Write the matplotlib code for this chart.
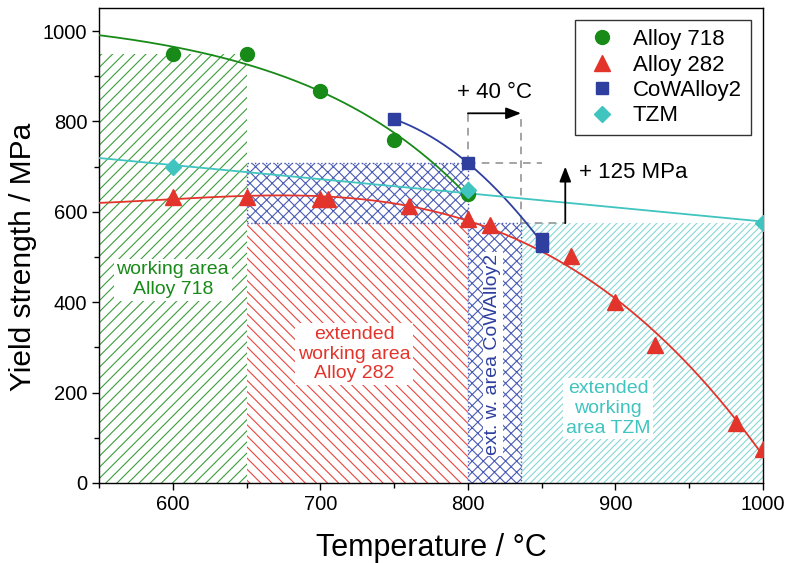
import numpy as np
import matplotlib
matplotlib.use("Agg")
import matplotlib.pyplot as plt
from matplotlib.patches import Rectangle

plt.rcParams['font.family'] = ['Liberation Sans', 'DejaVu Sans']
plt.rcParams['hatch.linewidth'] = 0.8

# Measured yield strength (MPa) versus temperature (°C)
t_718 = [600, 650, 700, 750, 800]
ys_718 = [950, 950, 868, 760, 640]

t_282 = [600, 650, 700, 705, 760, 800, 815, 870, 900, 927, 982, 1000]
ys_282 = [633, 633, 628, 628, 612, 584, 570, 503, 400, 306, 132, 75]

t_cow = [750, 800, 850, 850]
ys_cow = [805, 708, 540, 525]

t_tzm = [600, 800, 1000]
ys_tzm = [700, 648, 575]

# Working-area limits (temperature range, strength range)
area_718 = (550, 650, 0, 950)
area_282 = (650, 800, 0, 575)
area_cow_upper = (650, 800, 575, 708)
area_cow_lower = (800, 836, 0, 575)
area_tzm = (836, 1000, 0, 575)

c_green = '#188a18'
c_red = '#e3342b'
c_blue = '#2f3f9f'
c_cyan = '#3fc4c0'

fig = plt.figure(figsize=(7.88, 5.63), dpi=100)
ax = fig.add_axes([0.1256, 0.1421, 0.8427, 0.8437])
ax.set_xlim(550, 1000)
ax.set_ylim(0, 1051)


def area(lims, color, hatch, **kw):
    x0, x1, y0, y1 = lims
    r = Rectangle((x0, y0), x1 - x0, y1 - y0, facecolor='none',
                  edgecolor=color, hatch=hatch, zorder=1, **kw)
    ax.add_patch(r)
    return r


area(area_718, '#3c9c3c', '///', linewidth=0)
area(area_282, '#e8463e', '\\\\\\', linewidth=0)
area(area_tzm, '#86d8d5', '/////', linewidth=0)
area(area_cow_upper, '#4a5bb5', 'xxx', linewidth=1.0, linestyle=':')
area(area_cow_lower, '#4a5bb5', 'xxx', linewidth=1.0, linestyle=':')


# Fitted trend curves
def fit_poly(t, y, deg, t0, t1):
    p = np.polyfit(t, y, deg)
    tt = np.linspace(t0, t1, 300)
    return tt, np.polyval(p, tt)


def fit_exp(t, y, t0, t1):
    # y = a - b * exp(k * (T - 800)), k chosen by least squares scan
    t = np.asarray(t, float)
    y = np.asarray(y, float)
    best = None
    for k in np.linspace(0.002, 0.08, 800):
        X = np.column_stack([np.ones_like(t), -np.exp(k * (t - 800))])
        coef, *_ = np.linalg.lstsq(X, y, rcond=None)
        r = np.sum((X @ coef - y) ** 2)
        if best is None or r < best[0]:
            best = (r, k, coef)
    _, k, (a, b) = best
    tt = np.linspace(t0, t1, 300)
    return tt, a - b * np.exp(k * (tt - 800))


curves = [
    (fit_exp(t_718, ys_718, 550, 800), c_green),
    (fit_poly(t_282, ys_282, 3, 550, 1000), c_red),
    (fit_poly(t_cow, ys_cow, 2, 750, 850), c_blue),
    (fit_poly(t_tzm, ys_tzm, 1, 550, 1000), c_cyan),
]
for (tt, yy), col in curves:
    ax.plot(tt, yy, color=col, lw=1.3, zorder=3)

ax.plot(t_718, ys_718, 'o', color=c_green, ms=10, ls='none', zorder=4, label='Alloy 718')
ax.plot(t_282, ys_282, '^', color=c_red, ms=11, ls='none', zorder=4, label='Alloy 282')
ax.plot(t_cow, ys_cow, 's', color=c_blue, ms=8, ls='none', zorder=4, label='CoWAlloy2')
ax.plot(t_tzm, ys_tzm, 'D', color=c_cyan, ms=8.5, ls='none', zorder=4, label='TZM')

# Dashed guides and shift arrows
gray = '#8c8c8c'
dkw = dict(color=gray, lw=1.1, ls=(0, (5, 4)), zorder=2)
ax.plot([800, 800], [708, 818], **dkw)
ax.plot([800, 850], [708, 708], **dkw)
ax.plot([836, 836], [575, 818], **dkw)
ax.plot([836, 866], [575, 575], **dkw)

akw = dict(arrowstyle='-|>,head_length=0.9,head_width=0.35', color='black', lw=1.3,
           shrinkA=0, shrinkB=0)
ax.annotate('', xy=(836, 818), xytext=(800, 818), arrowprops=akw, zorder=5)
ax.annotate('', xy=(866, 700), xytext=(866, 575), arrowprops=akw, zorder=5)
ax.text(818, 865, '+ 40 °C', fontsize=16, ha='center', va='center')
ax.text(875, 688, '+ 125 MPa', fontsize=16, ha='left', va='center')

bkw = dict(facecolor='white', edgecolor='none', pad=2)
ax.text(600, 450, 'working area\nAlloy 718', color=c_green, fontsize=14,
        ha='center', va='center', linespacing=1.2, bbox=bkw, zorder=6)
ax.text(723, 285, 'extended\nworking area\nAlloy 282', color=c_red, fontsize=14,
        ha='center', va='center', linespacing=1.2, bbox=bkw, zorder=6)
ax.text(817, 285, 'ext. w. area CoWAlloy2', color=c_blue, fontsize=14,
        ha='center', va='center', rotation=90,
        bbox=dict(facecolor='white', edgecolor='none', pad=1), zorder=6)
ax.text(895, 165, 'extended\nworking\narea TZM', color=c_cyan, fontsize=14,
        ha='center', va='center', linespacing=1.2, bbox=bkw, zorder=6)

ax.set_xticks([600, 700, 800, 900, 1000])
ax.set_xticks([550, 650, 750, 850, 950], minor=True)
ax.set_yticks([0, 200, 400, 600, 800, 1000])
ax.set_yticks([100, 300, 500, 700, 900], minor=True)
ax.tick_params(which='both', direction='out', labelsize=14.5, top=False, right=False)
ax.tick_params(which='major', length=5, width=1)
ax.tick_params(which='minor', length=3.5, width=1)
for s in ax.spines.values():
    s.set_linewidth(1.0)

ax.set_xlabel('Temperature / °C', fontsize=22, labelpad=14)
ax.set_ylabel('Yield strength / MPa', fontsize=21.5, labelpad=6)
ax.yaxis.set_label_coords(-0.093, 0.476)

leg = ax.legend(loc='upper right', fontsize=16, frameon=True, fancybox=False,
                edgecolor='#333333', framealpha=1, handletextpad=0.6,
                borderpad=0.4, labelspacing=0.2, borderaxespad=0.55,
                handlelength=1.6)
leg.get_frame().set_linewidth(1.0)

fig.savefig('out.png', dpi=100)
